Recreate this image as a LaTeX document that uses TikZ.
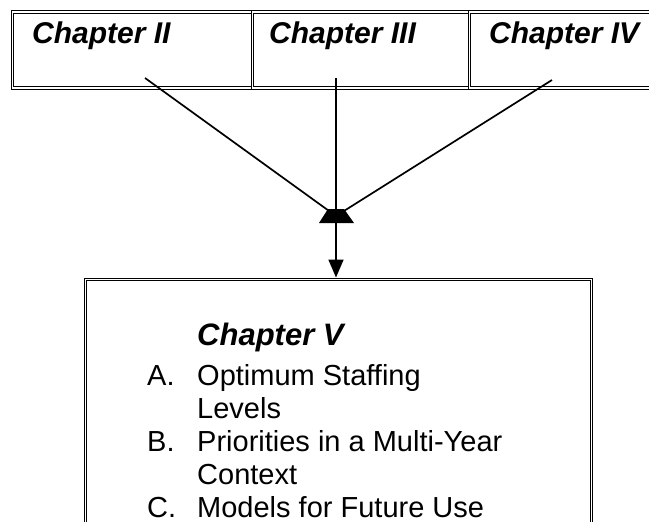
\documentclass[tikz,border=0pt]{standalone}
\usepackage{fontspec}
\setmainfont{Liberation Sans}
\usetikzlibrary{arrows.meta,calc}
\begin{document}
\begin{tikzpicture}[x=1pt,y=-1pt,
  dbl/.style={draw, double, double distance=1.6pt, line width=0.8pt, inner sep=0pt, anchor=north west},
  head/.style={anchor=base west, inner sep=0pt, font=\fontsize{30}{36}\selectfont\bfseries\itshape},
  conn/.style={line width=1.7pt}]
\useasboundingbox (0,0) rectangle (649,522);
\clip (0,0) rectangle (649,522);
% top row of chapters
\node[dbl, minimum width=240pt, minimum height=76pt] (ch2) at (12,11.5) {};
\node[dbl, minimum width=217pt, minimum height=76pt] (ch3) at (252,11.5) {};
\node[dbl, minimum width=220pt, minimum height=76pt] (ch4) at (469,11.5) {};
\node[head] (t2) at (32,43) {Chapter II};
\node[head] (t3) at (269,43) {Chapter III};
\node[head] (t4) at (489,43) {Chapter IV};
% bottom box
\node[dbl, minimum width=506pt, minimum height=270pt] (ch5) at (85,279) {};
\node[anchor=base west, inner sep=0pt, font=\fontsize{29}{33}\selectfont] (t5) at (147,345)
 {\begin{tabular}[t]{@{}p{50pt}@{}l@{}}
  & {\fontsize{31}{33}\selectfont\bfseries\itshape Chapter V}\\[7pt]
  A. & Optimum Staffing\\
     & Levels\\
  B. & Priorities in a Multi-Year\\
     & Context\\
  C. & Models for Future Use
  \end{tabular}};
% connectors
\coordinate (s2) at (145,78);
\coordinate (s3) at (336,78);
\coordinate (s4) at (552,80);
\coordinate (J) at (336,216);
\draw[conn] (s2) -- (J);
\draw[conn] (s3) -- (J);
\draw[conn] (s4) -- (J);
\fill ($(J)+(-8,-7)$) -- ($(J)+(8,-7)$) -- ($(J)+(18,7)$) -- ($(J)+(-17,7)$) -- cycle;
\coordinate (Jb) at ($(J)+(0,7)$);
\draw[conn, -{Triangle[length=18pt,width=15pt]}, shorten >=1.5pt] (Jb) -- (ch5.north -| Jb);
\end{tikzpicture}
\end{document}
